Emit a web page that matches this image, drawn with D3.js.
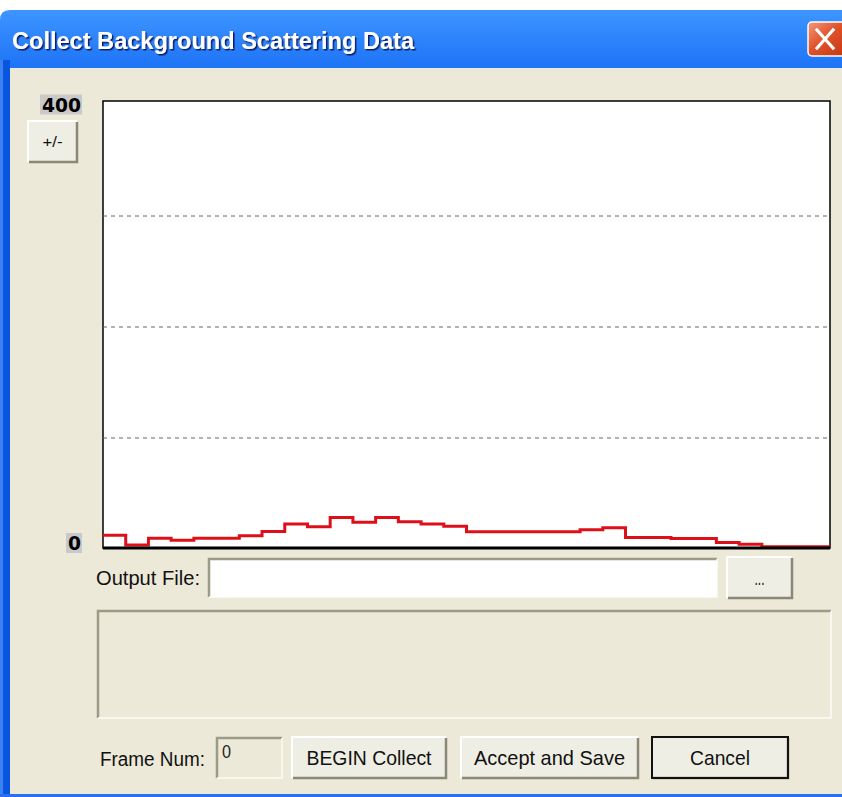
<!DOCTYPE html>
<html>
<head>
<meta charset="utf-8">
<script src="https://cdn.jsdelivr.net/npm/d3@7"></script>
<style>
  html, body { margin: 0; padding: 0; background: #fff; }
  svg { display: block; }
</style>
</head>
<body>
<div id="chart"></div>
<script>
// counts per bin (32 bins across the detector)
var binValues = [12, 3.2, 9.2, 7.4, 9.2, 9.2, 11.5, 15.3, 22, 19.6, 28, 23.6, 28, 24, 22, 20,
                 15, 15, 15, 15, 15, 17, 18.7, 10, 10, 9, 9, 5.5, 3.8, 1.5, 1.5, 1.5];
var yLimits = [0, 400];
var gridValues = [100, 200, 300];
var titleText = "Collect Background Scattering Data";

(function () {
    var W = 842, H = 797;
    var beige = "#ece9d8";

    var svg = d3.select("#chart").append("svg")
        .attr("width", W)
        .attr("height", H)
        .style("font-family", "'Liberation Sans', Arial, sans-serif");

    var defs = svg.append("defs");
    var tg = defs.append("linearGradient").attr("id", "titleGrad")
        .attr("x1", 0).attr("y1", 0).attr("x2", 0).attr("y2", 1);
    tg.append("stop").attr("offset", "0%").attr("stop-color", "#3d95ff");
    tg.append("stop").attr("offset", "12%").attr("stop-color", "#0a5ef0");
    tg.append("stop").attr("offset", "60%").attr("stop-color", "#0058e6");
    tg.append("stop").attr("offset", "100%").attr("stop-color", "#0043cf");
    var cg = defs.append("linearGradient").attr("id", "closeGrad")
        .attr("x1", 0).attr("y1", 0).attr("x2", 1).attr("y2", 1);
    cg.append("stop").attr("offset", "0%").attr("stop-color", "#f29a7e");
    cg.append("stop").attr("offset", "45%").attr("stop-color", "#e0522a");
    cg.append("stop").attr("offset", "100%").attr("stop-color", "#c23510");
    var shadow = defs.append("filter").attr("id", "titleShadow");
    shadow.append("feDropShadow").attr("dx", 1.5).attr("dy", 1.5).attr("stdDeviation", 0.5)
        .attr("flood-color", "#0a1e6a").attr("flood-opacity", 1);

    // window frame
    svg.append("rect").attr("x", 0).attr("y", 0).attr("width", W).attr("height", H).attr("fill", "#fff");
    svg.append("path")
        .attr("d", "M0,20 Q0,10 10,10 L" + W + ",10 L" + W + "," + H + " L0," + H + " Z")
        .attr("fill", "url(#titleGrad)");
    svg.append("rect").attr("x", 0).attr("y", 60).attr("width", 10).attr("height", H - 60).attr("fill", "#0a55e0");
    svg.append("rect").attr("x", 0).attr("y", 60).attr("width", 3).attr("height", H - 60).attr("fill", "#3b82f0");
    svg.append("rect").attr("x", 10).attr("y", 68).attr("width", W - 10).attr("height", H - 68 - 3).attr("fill", beige);
    svg.append("rect").attr("x", 0).attr("y", H - 3).attr("width", W).attr("height", 3).attr("fill", "#2a6ff0");

    // title
    svg.append("text").attr("x", 12).attr("y", 49)
        .attr("textLength", 402).attr("lengthAdjust", "spacingAndGlyphs")
        .attr("font-size", 24).attr("font-weight", "bold").attr("fill", "#fff")
        .attr("filter", "url(#titleShadow)")
        .text(titleText);

    // close button
    svg.append("rect").attr("x", 808).attr("y", 22).attr("width", 40).attr("height", 34).attr("rx", 4)
        .attr("fill", "url(#closeGrad)").attr("stroke", "#fff").attr("stroke-width", 1.5);
    svg.append("path").attr("d", "M817,30 L833,48 M833,30 L817,48")
        .attr("stroke", "#fff").attr("stroke-width", 3.2).attr("stroke-linecap", "square");

    // plot area
    var plot = {left: 103, top: 101, right: 830, bottom: 548};
    var x = d3.scaleLinear().domain([0, binValues.length]).range([plot.left, plot.right]);
    var y = d3.scaleLinear().domain(yLimits).range([548.5, 104.5]);

    svg.append("rect").attr("x", plot.left).attr("y", plot.top)
        .attr("width", plot.right - plot.left).attr("height", plot.bottom - plot.top)
        .attr("fill", "#fff").attr("stroke", "#000").attr("stroke-width", 1.5);

    // dashed grid
    var grid = svg.append("g")
        .attr("transform", "translate(" + plot.left + ",0)")
        .call(d3.axisLeft(y).tickValues(gridValues).tickSize(-(plot.right - plot.left)).tickFormat(""));
    grid.select(".domain").remove();
    grid.selectAll("line").attr("stroke", "#666").attr("stroke-dasharray", "4,4");

    // step line
    var pts = binValues.map(function (v, i) { return [i, v]; });
    pts.push([binValues.length, binValues[binValues.length - 1]]);
    var line = d3.line()
        .curve(d3.curveStepAfter)
        .x(function (d) { return x(d[0]); })
        .y(function (d) { return y(d[1]); });
    svg.append("path").datum(pts)
        .attr("d", line)
        .attr("fill", "none")
        .attr("stroke", "#dd1019")
        .attr("stroke-width", 3);

    // bottom axis line
    svg.append("line").attr("x1", plot.left).attr("x2", plot.right)
        .attr("y1", plot.bottom).attr("y2", plot.bottom)
        .attr("stroke", "#000").attr("stroke-width", 3);

    // y limit labels
    yLimits.forEach(function (v) {
        var txt = String(v);
        var w = txt.length * 13 + 3;
        var cy = Math.min(Math.max(y(v), 103), 543);
        svg.append("rect").attr("x", 82 - w).attr("y", cy - 10).attr("width", w).attr("height", 20)
            .attr("fill", "#c9c9c9");
        svg.append("text").attr("x", 81).attr("y", cy + 7)
            .attr("text-anchor", "end").attr("font-size", 19).attr("font-weight", "bold")
            .attr("font-family", "'DejaVu Sans', sans-serif")
            .attr("textLength", txt.length * 13).attr("lengthAdjust", "spacingAndGlyphs")
            .text(txt);
    });

    // helpers for classic controls
    function button(x0, y0, w, h, label, tl, isDefault) {
        var g = svg.append("g");
        g.append("rect").attr("x", x0).attr("y", y0).attr("width", w).attr("height", h).attr("fill", "#efeee4");
        g.append("path").attr("d", "M" + x0 + "," + (y0 + h) + " V" + y0 + " H" + (x0 + w))
            .attr("fill", "none").attr("stroke", "#fff").attr("stroke-width", 2);
        g.append("path").attr("d", "M" + (x0 + 1) + "," + (y0 + h) + " H" + (x0 + w) + " V" + (y0 + 1))
            .attr("fill", "none").attr("stroke", "#8a8878").attr("stroke-width", 2.5);
        if (isDefault) {
            g.append("rect").attr("x", x0).attr("y", y0).attr("width", w).attr("height", h)
                .attr("fill", "none").attr("stroke", "#111").attr("stroke-width", 2);
        }
        var t = g.append("text").attr("x", x0 + w / 2).attr("y", y0 + h / 2 + 7)
            .attr("text-anchor", "middle").attr("font-size", 21).attr("fill", "#111").text(label);
        if (tl) t.attr("textLength", tl).attr("lengthAdjust", "spacingAndGlyphs");
        return g;
    }
    function sunken(x0, y0, w, h, fill) {
        svg.append("rect").attr("x", x0).attr("y", y0).attr("width", w).attr("height", h).attr("fill", fill);
        svg.append("path").attr("d", "M" + x0 + "," + (y0 + h) + " V" + y0 + " H" + (x0 + w))
            .attr("fill", "none").attr("stroke", "#9d9a88").attr("stroke-width", 2.5);
        svg.append("path").attr("d", "M" + x0 + "," + (y0 + h) + " H" + (x0 + w) + " V" + y0)
            .attr("fill", "none").attr("stroke", "#fbfbf8").attr("stroke-width", 1.5);
    }
    function label(x0, yb, txt, tl) {
        svg.append("text").attr("x", x0).attr("y", yb)
            .attr("font-size", 20).attr("fill", "#111")
            .attr("textLength", tl).attr("lengthAdjust", "spacingAndGlyphs").text(txt);
    }

    // +/- button
    button(28, 121, 49, 41, "+/-", 20, false).select("text").attr("font-size", 15).attr("y", 147);

    // output file row
    label(96, 585, "Output File:", 104);
    sunken(209, 559, 508, 38, "#fff");
    button(727, 557, 65, 41, "...", 10, false);

    // status panel
    sunken(98, 611, 733, 107, beige);

    // bottom row
    label(100, 766, "Frame Num:", 105);
    sunken(217, 738, 65, 40, beige);
    svg.append("text").attr("x", 222).attr("y", 758).attr("font-size", 19).attr("fill", "#222")
        .attr("textLength", 9).attr("lengthAdjust", "spacingAndGlyphs").text("0");
    button(292, 737, 154, 41, "BEGIN Collect", 125, false);
    button(461, 737, 177, 41, "Accept and Save", 151, false);
    button(652, 737, 136, 41, "Cancel", 60, true);
})();
</script>
</body>
</html>
